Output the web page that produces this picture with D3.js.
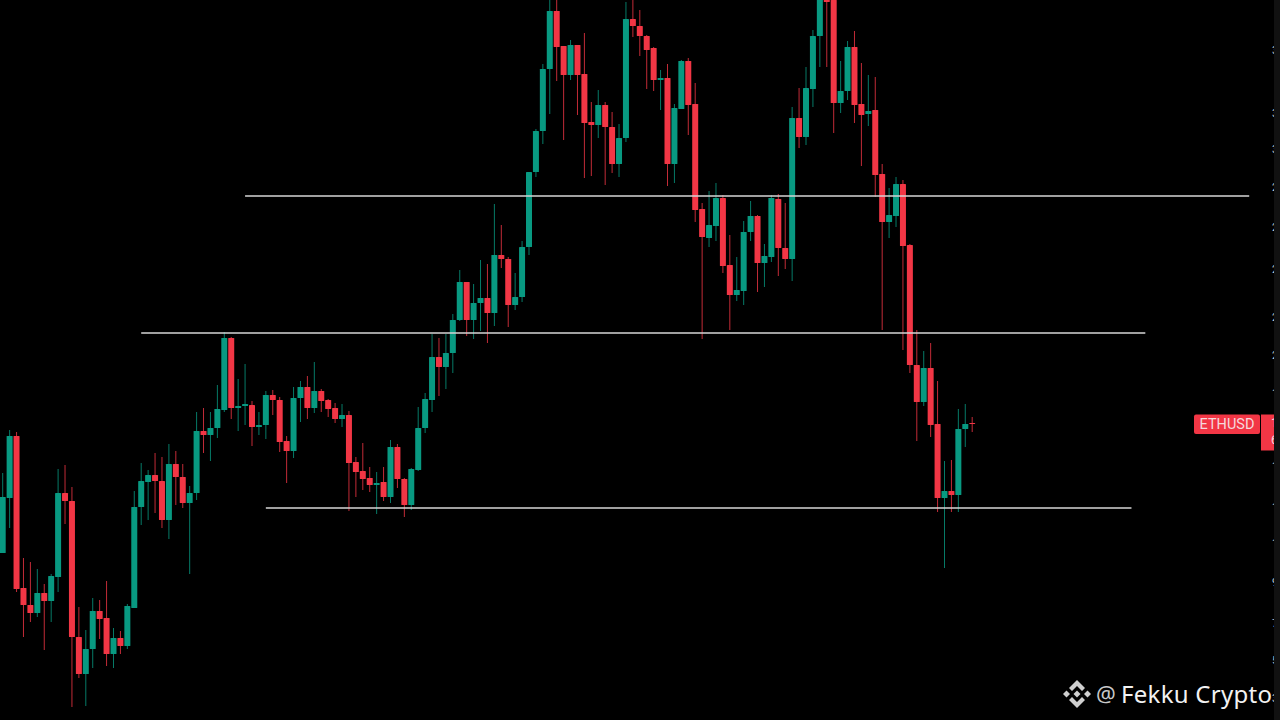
<!DOCTYPE html>
<html><head><meta charset="utf-8">
<style>html,body{margin:0;padding:0;background:#000;overflow:hidden}svg{display:block}</style>
<script src="https://cdn.jsdelivr.net/npm/d3@7/dist/d3.min.js"></script></head>
<body><svg id="c" width="1280" height="720"></svg>
<script>
const opens=[1085,1360,1670,910,825,785,885,845,965,1385,1345,665,480,605,795,760,580,660,620,810,1315,1440,1475,1445,1250,1530,1465,1335,1385,1695,1675,1710,1800,2160,1810,1820,1825,1715,1725,1875,1850,1645,1595,1860,1915,1810,1895,1850,1810,1755,1775,1540,1495,1460,1425,1440,1365,1615,1455,1325,1500,1710,1850,2065,2015,2085,2250,2440,2250,2335,2360,2285,2575,2555,2325,2365,2615,2990,3195,3505,3795,3620,3475,3625,3480,3240,3225,3325,3215,3030,3160,3755,3720,3670,3610,3450,3460,3030,3305,3545,3330,2805,2660,2720,2860,2525,2375,2395,2690,2770,2535,2565,2855,2610,2555,3260,3165,3405,3670,3860,3850,3335,3395,3615,3330,3280,3300,2980,2740,2770,2930,2625,2025,1840,2010,1730,1360,1395,1375,1705,1735];
const highs=[1485,1700,1690,1060,1040,1005,930,980,1505,1525,1415,815,700,860,850,945,710,695,830,1395,1535,1500,1585,1565,1630,1595,1530,1420,1790,1810,1790,1925,2190,2165,1955,2030,1845,1790,1895,1900,1865,1670,1915,1945,1970,2040,1905,1855,1835,1830,1795,1565,1635,1515,1490,1515,1650,1630,1460,1510,1815,1885,2180,2160,2180,2280,2500,2440,2430,2550,2530,2830,2725,2565,2485,2645,2990,3205,3530,3875,3875,3620,3650,3625,3685,3340,3400,3340,3290,3230,3840,3875,3800,3675,3615,3500,3530,3330,3550,3560,3435,2835,2895,2935,2875,2675,2565,2745,2845,2775,2630,2875,2880,2835,3315,3410,3515,3700,3875,3875,3875,3545,3645,3695,3535,3475,3465,3030,2910,2965,2950,2630,2200,2095,2135,1945,1545,1550,1805,1830,1765];
const lows=[1085,1210,890,665,740,765,600,740,890,1230,315,460,320,510,655,520,510,580,605,810,1225,1250,1285,1210,1155,1325,1310,980,1350,1585,1545,1660,1790,1755,1695,1725,1620,1675,1655,1775,1590,1435,1560,1740,1755,1785,1790,1765,1735,1715,1295,1365,1400,1390,1280,1345,1335,1410,1265,1300,1495,1685,1790,1870,1905,1985,2245,2170,2155,2195,2135,2220,2510,2215,2300,2340,2575,2965,3130,3280,3445,3150,3450,3275,2960,2970,3160,2925,2985,2965,3140,3665,3570,3405,3395,3300,2920,2935,3305,3175,2740,2155,2615,2645,2485,2200,2345,2325,2645,2390,2415,2540,2470,2505,2445,3110,3125,3315,3515,3515,3185,3285,3350,3235,3020,3220,2865,2200,2660,2715,2100,1985,1645,1820,1665,1290,1010,1290,1290,1615,1690];
const closes=[1365,1670,905,825,785,885,845,970,1385,1345,665,480,605,795,755,580,660,620,820,1315,1445,1475,1445,1250,1530,1465,1335,1385,1695,1675,1710,1805,2160,1810,1820,1830,1715,1725,1875,1850,1640,1595,1860,1915,1810,1895,1845,1805,1755,1775,1535,1490,1455,1425,1435,1365,1615,1455,1325,1505,1710,1855,2065,2015,2085,2250,2440,2250,2335,2360,2285,2575,2555,2325,2365,2615,2990,3195,3505,3795,3615,3475,3625,3475,3235,3225,3325,3215,3030,3160,3755,3720,3670,3600,3450,3460,3030,3310,3545,3325,2800,2665,2725,2860,2520,2375,2400,2690,2770,2535,2570,2860,2610,2555,3260,3165,3410,3670,3860,3840,3335,3395,3615,3325,3275,3295,2975,2740,2775,2930,2620,2025,1840,2010,1725,1360,1395,1375,1705,1730,1730];
const levelPrices=[2870,2185,1310];
const levelStarts=[35,20,38];
const levelEnds=[180,165,163];
const tickPrices=[3600,3285,3105,2915,2715,2505,2265,2075,1885,1520,1315,1135,940,735,550,360];
const lastPrice=1730;
const symbol="ETHUSD";
const tagDigits=["1","6"];
const watermarkAt="@";
const watermark="Fekku Crypto";

const RED="#f23645",GREEN="#089981";
const svg=d3.select("#c");
svg.append("rect").attr("width",1280).attr("height",720).attr("fill","#000");
const x=d3.scaleLinear().domain([0,180]).range([2.7,1249.2]);
const y=d3.scaleLinear().domain([3850,250]).range([0,720]);
const bw=6;

const candles=opens.map((o,i)=>({i,o,h:highs[i],l:lows[i],c:closes[i]}));
const col=d=>d.c>=d.o?GREEN:RED;
const g=svg.append("g");
g.selectAll("line.w").data(candles).join("line").attr("class","w")
  .attr("x1",d=>x(d.i)).attr("x2",d=>x(d.i)).attr("y1",d=>y(d.h)).attr("y2",d=>y(d.l))
  .attr("stroke",col).attr("stroke-width",1).attr("stroke-opacity",.8);
g.selectAll("rect.b").data(candles).join("rect").attr("class","b")
  .attr("x",d=>x(d.i)-bw/2).attr("width",bw)
  .attr("y",d=>y(Math.max(d.o,d.c)))
  .attr("height",d=>Math.max(1,y(Math.min(d.o,d.c))-y(Math.max(d.o,d.c))))
  .attr("fill",col).attr("rx",.6);

svg.append("g").selectAll("line").data(levelPrices).join("line")
  .attr("x1",(d,i)=>x(levelStarts[i])).attr("x2",(d,i)=>x(levelEnds[i]))
  .attr("y1",d=>y(d)).attr("y2",d=>y(d))
  .attr("stroke","#d6d6d6").attr("stroke-width",1.4);

// right price axis: only the leading digit shows before the panel edge
const axis=d3.axisRight(y).tickValues(tickPrices).tickSize(0).tickPadding(0).tickFormat(d=>String(d)[0]);
const ag=svg.append("g").attr("transform","translate(1272,0)").call(axis);
ag.select(".domain").remove();
ag.selectAll("text").attr("fill","#c4c6cc").attr("font-family","Roboto,sans-serif").attr("font-size",11);

// last price tag
const ly=y(lastPrice);
const tag=svg.append("g");
tag.append("rect").attr("x",1194).attr("y",ly-9.5).attr("width",66).attr("height",19.5).attr("rx",2).attr("fill",RED);
tag.append("text").attr("x",1227).attr("y",ly+5).attr("text-anchor","middle").attr("fill","#f5d8dc")
  .attr("font-family","Roboto,sans-serif").attr("font-size",14.5).text(symbol);
tag.append("rect").attr("x",1261).attr("y",ly-9.5).attr("width",13).attr("height",36).attr("fill",RED);
tag.selectAll("text.d").data(tagDigits).join("text").attr("class","d")
  .attr("x",1271).attr("y",(d,i)=>ly+3+i*17).attr("fill","#f5d8dc")
  .attr("font-family","Roboto,sans-serif").attr("font-size",12).text(d=>d);

// right panel covers the rest of the digits
svg.append("rect").attr("x",1274).attr("y",0).attr("width",6).attr("height",720).attr("fill","#111");

// watermark
const wm=svg.append("g");
const logo=wm.append("g").attr("transform","translate(1077,694)").attr("fill","#cfcfcf");
logo.append("path").attr("d","M0,-14 L8,-6 L5,-3 L0,-8 L-5,-3 L-8,-6 Z");
logo.append("path").attr("d","M0,14 L8,6 L5,3 L0,8 L-5,3 L-8,6 Z");
logo.append("path").attr("d","M-14,0 L-10.5,-3.5 L-7,0 L-10.5,3.5 Z");
logo.append("path").attr("d","M14,0 L10.5,-3.5 L7,0 L10.5,3.5 Z");
logo.append("path").attr("d","M0,-3.5 L3.5,0 L0,3.5 L-3.5,0 Z");
wm.append("text").attr("x",1096).attr("y",702).attr("fill","#c8c8c8").attr("font-family","'Noto Sans',sans-serif").attr("font-size",22).text(watermarkAt);
wm.append("text").attr("x",1121).attr("y",702.5).attr("fill","#f2f2f2").attr("font-family","'Noto Sans',sans-serif").attr("font-size",24).attr("textLength",151).attr("lengthAdjust","spacing").text(watermark);
</script></body></html>
